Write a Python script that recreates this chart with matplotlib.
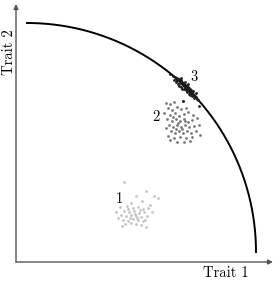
import numpy as np
import matplotlib
matplotlib.use("Agg")
import matplotlib.pyplot as plt

# cluster points (trait 1, trait 2) in plot units
c3_px = [(170,74),(173,76),(175,77),(176,79),(177,78),(178,80),(179,79),(180,81),(180,83),(181,80),
         (182,82),(182,84),(183,83),(183,85),(184,84),(184,86),(185,85),(185,87),(186,86),(186,88),
         (187,85),(187,89),(188,87),(188,90),(189,88),(189,91),(190,89),(190,92),(191,90),(191,93),
         (192,92),(193,94),(193,91),(194,95),(195,96),(196,97),(197,99),(198,100),(183,101),(199,106),
         (176,82),(179,86),(196,93),(192,96),(181,78),(178,84),(181,87),(184,89),(187,92),(190,95),
         (185,82),(188,84),(177,81),(194,98),(174,80),(189,94),(186,90),(182,89)]
c2_px = [(166,103),(170,104),(174,102),(183,101),(168,108),(172,110),(177,107),(181,109),(186,108),
         (164,113),(170,115),(175,113),(179,116),(184,114),(188,112),(193,115),(167,119),(172,121),
         (176,119),(180,121),(184,119),(188,122),(192,120),(197,118),(169,125),(173,127),(177,125),
         (181,127),(185,125),(189,127),(194,126),(171,131),(175,133),(179,131),(183,133),(187,131),
         (191,133),(196,131),(168,136),(174,138),(180,137),(186,138),(192,137),(177,142),(184,142),
         (190,141),(200,135),(178,123),(182,129),(176,129),(185,121),(173,117),(166,128),(199,125),(170,140)]
c1_px = [(124,182),(146,191),(154,196),(158,198),(136,196),(142,201),(131,203),(150,205),(120,207),
         (127,206),(133,208),(138,207),(143,209),(148,208),(124,211),(129,212),(134,211),(139,213),
         (144,212),(152,212),(121,215),(126,216),(131,215),(136,216),(141,217),(147,216),(123,220),
         (128,221),(133,219),(138,220),(143,221),(118,218),(125,224),(131,223),(136,224),(141,225),
         (146,227),(122,226),(116,212),(135,214),(130,218),(140,210),(137,218),(145,220),(128,209)]

c3_x = [p[0] - 16 for p in c3_px]; c3_y = [262 - p[1] for p in c3_px]
c2_x = [p[0] - 16 for p in c2_px]; c2_y = [262 - p[1] for p in c2_px]
c1_x = [p[0] - 16 for p in c1_px]; c1_y = [262 - p[1] for p in c1_px]

front_center = (11, 10)
front_radius = 229

fig = plt.figure(figsize=(2.75, 2.87), dpi=100)
ax = fig.add_axes([0, 0, 1, 1])
ax.set_xlim(-16, 259)
ax.set_ylim(-25, 262)
ax.axis("off")

axis_col = "#555555"
ax.annotate("", xy=(257, 0), xytext=(0, 0),
            arrowprops=dict(arrowstyle="-|>", color=axis_col, lw=1.0, mutation_scale=7, shrinkA=0, shrinkB=0))
ax.annotate("", xy=(0, 258), xytext=(0, 0),
            arrowprops=dict(arrowstyle="-|>", color=axis_col, lw=1.0, mutation_scale=7, shrinkA=0, shrinkB=0))

t = np.linspace(0, np.pi / 2, 200)
ax.plot(front_center[0] + front_radius * np.cos(t), front_center[1] + front_radius * np.sin(t),
        color="black", lw=1.4, zorder=2)

ax.scatter(c1_x, c1_y, s=4, color="#c4c4c4", linewidths=0, zorder=3)
ax.scatter(c2_x, c2_y, s=4, color="#7a7a7a", linewidths=0, zorder=3)
ax.scatter(c3_x, c3_y, s=4, color="#1a1a1a", linewidths=0, zorder=3)

fam = ["cmr10", "DejaVu Serif"]
ax.text(178, 185, "3", family=fam, fontsize=10.5, ha="center", va="center")
ax.text(140, 145, "2", family=fam, fontsize=10.5, ha="center", va="center")
ax.text(103, 63, "1", family=fam, fontsize=10.5, ha="center", va="center")
ax.text(210, -11, "Trait 1", family=fam, fontsize=10.5, ha="center", va="center")
ax.text(-7, 210, "Trait 2", family=fam, fontsize=10.5, ha="center", va="center", rotation=90)

fig.savefig("out.png", dpi=100)
